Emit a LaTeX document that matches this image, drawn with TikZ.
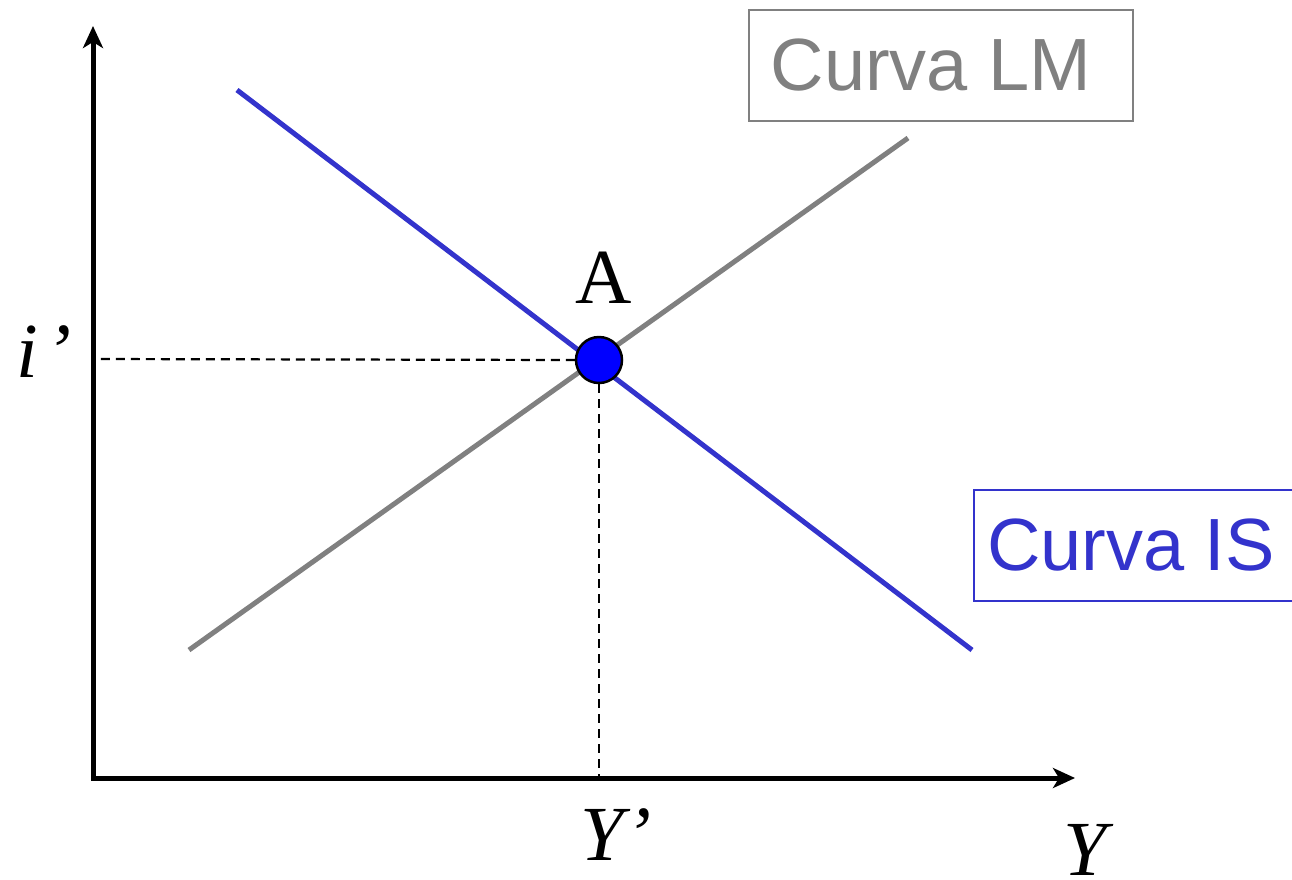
\documentclass[tikz,border=0pt]{standalone}
\usepackage{fontspec}
\setmainfont{Liberation Serif}
\newfontfamily\sansf{Liberation Sans}
\usetikzlibrary{arrows.meta}
\definecolor{isblue}{HTML}{3333CC}
\definecolor{lmgray}{HTML}{808080}
\definecolor{ptblue}{HTML}{0000FF}
\tikzset{
  axis/.style={line width=5pt, line join=miter, {Stealth[length=22pt,width=20pt,inset=6pt]}-{Stealth[length=22pt,width=20pt,inset=6pt]}},
  iscurve/.style={line width=5pt, isblue},
  lmcurve/.style={line width=5pt, lmgray},
  guide/.style={line width=2.2pt, dash pattern=on 9pt off 6pt},
  eqpt/.style={circle, draw=black, line width=2.5pt, fill=ptblue, minimum size=46pt, inner sep=0pt},
  serlab/.style={anchor=base, inner sep=0pt, font=\fontsize{78}{80}\selectfont},
  lmbox/.style={draw=lmgray, line width=2pt, text=lmgray, minimum width=384pt, minimum height=111pt, font=\sansf\fontsize{74}{80}\selectfont, inner sep=0pt},
  isbox/.style={draw=isblue, line width=2pt, text=isblue, minimum width=336pt, minimum height=111pt, font=\sansf\fontsize{74}{80}\selectfont, inner sep=0pt}
}
\begin{document}
\begin{tikzpicture}[x=1pt,y=-1pt]
\clip (0,0) rectangle (1292,879);
\coordinate (O) at (93,778);
\coordinate (ytop) at (93,26);
\coordinate (xend) at (1075,778);
\coordinate (is1) at (237,90);
\coordinate (is2) at (972,650);
\coordinate (lm1) at (189,650);
\coordinate (lm2) at (908,138);
\coordinate (iy) at (95,359);
\coordinate (yx) at (599,778);

\draw[axis] (ytop) -- (O) -- (xend);
\draw[iscurve] (is1) -- (is2);
\draw[lmcurve] (lm1) -- (lm2);
\node[eqpt] (A) at (599,360) {};
\draw[guide] (A.west) -- (iy);
\draw[guide] (A.south) -- (yx);

\node[serlab] (lA) at (604,303) {A};
\node[serlab] (li) at (44,377) {\itshape i\hspace{8pt}’};
\node[serlab] (lY1) at (616,860) {\itshape Y\hspace{2pt}’};
\node[serlab] (lY) at (1085,875) {\itshape Y};

\node[lmbox] (lmb) at (941,65.5) {\hspace*{-20pt}Curva LM};
\node[isbox, anchor=west] (isb) at (973,545.5) {\hspace*{-22pt}Curva IS};
\end{tikzpicture}
\end{document}
